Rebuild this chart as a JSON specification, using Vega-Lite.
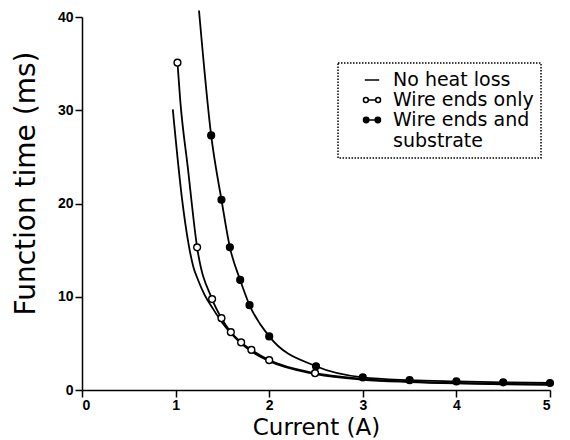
{
  "$schema": "https://vega.github.io/schema/vega-lite/v6.json",
  "width": 468,
  "height": 373,
  "autosize": {"type": "none"},
  "padding": {"left": 82, "top": 17, "right": 20, "bottom": 50},
  "background": "white",
  "config": {
    "view": {"stroke": null},
    "axis": {
      "domainColor": "black",
      "domainWidth": 1.5,
      "tickColor": "black",
      "tickWidth": 1.5,
      "tickSize": 7,
      "grid": false,
      "labelFont": "Liberation Sans",
      "labelFontWeight": "bold",
      "labelFontSize": 14,
      "labelColor": "black",
      "labelPadding": 2,
      "titleFont": "DejaVu Sans",
      "titleFontWeight": "normal",
      "titleColor": "black"
    },
    "legend": {
      "strokeDash": [1.5, 1.5],
      "strokeWidth": 1.5,
      "strokeColor": "black"
    }
  },
  "datasets": {
    "curves": [
      {"series": "No heat loss", "current": 0.97, "time": 30.1},
      {"series": "No heat loss", "current": 1.07, "time": 20.4},
      {"series": "No heat loss", "current": 1.19, "time": 13.2},
      {"series": "No heat loss", "current": 1.24, "time": 11.8},
      {"series": "No heat loss", "current": 1.31, "time": 10.2},
      {"series": "No heat loss", "current": 1.4, "time": 8.7},
      {"series": "No heat loss", "current": 1.5, "time": 7.2},
      {"series": "No heat loss", "current": 1.6, "time": 6.0},
      {"series": "No heat loss", "current": 1.7, "time": 5.0},
      {"series": "No heat loss", "current": 1.8, "time": 4.2},
      {"series": "No heat loss", "current": 2.0, "time": 3.1},
      {"series": "No heat loss", "current": 2.5, "time": 1.7},
      {"series": "No heat loss", "current": 3.0, "time": 1.1},
      {"series": "No heat loss", "current": 3.5, "time": 0.85},
      {"series": "No heat loss", "current": 4.0, "time": 0.7},
      {"series": "No heat loss", "current": 4.5, "time": 0.6},
      {"series": "No heat loss", "current": 5.0, "time": 0.55},
      {"series": "Wire ends only", "current": 1.02, "time": 35.1},
      {"series": "Wire ends only", "current": 1.05, "time": 31.0},
      {"series": "Wire ends only", "current": 1.13, "time": 23.9},
      {"series": "Wire ends only", "current": 1.23, "time": 15.3},
      {"series": "Wire ends only", "current": 1.39, "time": 9.75},
      {"series": "Wire ends only", "current": 1.49, "time": 7.7},
      {"series": "Wire ends only", "current": 1.59, "time": 6.2},
      {"series": "Wire ends only", "current": 1.7, "time": 5.1},
      {"series": "Wire ends only", "current": 1.81, "time": 4.3},
      {"series": "Wire ends only", "current": 2.0, "time": 3.2},
      {"series": "Wire ends only", "current": 2.49, "time": 1.8},
      {"series": "Wire ends only", "current": 3.0, "time": 1.2},
      {"series": "Wire ends only", "current": 3.5, "time": 0.9},
      {"series": "Wire ends only", "current": 4.0, "time": 0.75},
      {"series": "Wire ends only", "current": 4.5, "time": 0.65},
      {"series": "Wire ends only", "current": 5.0, "time": 0.6},
      {"series": "Wire ends and substrate", "current": 1.25, "time": 40.7},
      {"series": "Wire ends and substrate", "current": 1.38, "time": 27.3},
      {"series": "Wire ends and substrate", "current": 1.49, "time": 20.4},
      {"series": "Wire ends and substrate", "current": 1.58, "time": 15.3},
      {"series": "Wire ends and substrate", "current": 1.69, "time": 11.8},
      {"series": "Wire ends and substrate", "current": 1.79, "time": 9.1},
      {"series": "Wire ends and substrate", "current": 2.0, "time": 5.75},
      {"series": "Wire ends and substrate", "current": 2.5, "time": 2.55},
      {"series": "Wire ends and substrate", "current": 3.0, "time": 1.35},
      {"series": "Wire ends and substrate", "current": 3.5, "time": 1.05},
      {"series": "Wire ends and substrate", "current": 4.0, "time": 0.92},
      {"series": "Wire ends and substrate", "current": 4.5, "time": 0.82},
      {"series": "Wire ends and substrate", "current": 5.0, "time": 0.75}
    ],
    "markers": [
      {"series": "Wire ends only", "current": 1.02, "time": 35.1},
      {"series": "Wire ends only", "current": 1.23, "time": 15.3},
      {"series": "Wire ends only", "current": 1.39, "time": 9.75},
      {"series": "Wire ends only", "current": 1.49, "time": 7.7},
      {"series": "Wire ends only", "current": 1.59, "time": 6.2},
      {"series": "Wire ends only", "current": 1.7, "time": 5.1},
      {"series": "Wire ends only", "current": 1.81, "time": 4.3},
      {"series": "Wire ends only", "current": 2.0, "time": 3.2},
      {"series": "Wire ends only", "current": 2.49, "time": 1.8},
      {"series": "Wire ends and substrate", "current": 1.38, "time": 27.3},
      {"series": "Wire ends and substrate", "current": 1.49, "time": 20.4},
      {"series": "Wire ends and substrate", "current": 1.58, "time": 15.3},
      {"series": "Wire ends and substrate", "current": 1.69, "time": 11.8},
      {"series": "Wire ends and substrate", "current": 1.79, "time": 9.1},
      {"series": "Wire ends and substrate", "current": 2.0, "time": 5.75},
      {"series": "Wire ends and substrate", "current": 2.5, "time": 2.55},
      {"series": "Wire ends and substrate", "current": 3.0, "time": 1.35},
      {"series": "Wire ends and substrate", "current": 3.5, "time": 1.05},
      {"series": "Wire ends and substrate", "current": 4.0, "time": 0.92},
      {"series": "Wire ends and substrate", "current": 4.5, "time": 0.82},
      {"series": "Wire ends and substrate", "current": 5.0, "time": 0.75}
    ]
  },
  "encoding": {
    "x": {
      "field": "current",
      "type": "quantitative",
      "scale": {"domain": [0, 5], "nice": false},
      "axis": {"values": [0, 1, 2, 3, 4, 5], "title": "Current (A)", "titleFontSize": 23, "titleBaseline": "alphabetic", "titleY": 44, "labelPadding": 1}
    },
    "y": {
      "field": "time",
      "type": "quantitative",
      "scale": {"domain": [0, 40], "nice": false},
      "axis": {"values": [0, 10, 20, 30, 40], "title": "Function time (ms)", "titleFontSize": 28, "titleX": -42, "titleY": 166}
    }
  },
  "layer": [
    {
      "data": {"name": "curves"},
      "mark": {"type": "line", "interpolate": "monotone", "stroke": "black", "strokeWidth": 1.8, "clip": false},
      "encoding": {"detail": {"field": "series"}}
    },
    {
      "data": {"name": "markers"},
      "mark": {"type": "point", "shape": "circle", "filled": true, "stroke": "black", "strokeWidth": 1.4, "size": 46, "opacity": 1},
      "encoding": {
        "fill": {
          "field": "series",
          "type": "nominal",
          "scale": {"domain": ["No heat loss", "Wire ends only", "Wire ends and substrate"], "range": ["white", "white", "black"]}
        }
      }
    },
    {
      "data": {"name": "curves"},
      "mark": {"type": "point", "stroke": "black", "opacity": 0, "size": 1},
      "encoding": {
        "shape": {
          "field": "series",
          "type": "nominal",
          "scale": {
            "domain": ["No heat loss", "Wire ends only", "Wire ends and substrate"],
            "range": [
              "M-0.8,0H0.8",
              "M-0.95,0A0.27,0.27 0 1,1 -0.41,0A0.27,0.27 0 1,1 -0.95,0ZM-0.41,0H0.41M0.41,0A0.27,0.27 0 1,1 0.95,0A0.27,0.27 0 1,1 0.41,0Z",
              "M-0.95,0A0.3,0.3 0 1,1 -0.35,0A0.3,0.3 0 1,1 -0.95,0ZM-0.35,0H0.35M0.35,0A0.3,0.3 0 1,1 0.95,0A0.3,0.3 0 1,1 0.35,0Z"
            ]
          },
          "legend": {
            "title": null,
            "orient": "none",
            "legendX": 256,
            "legendY": 46,
            "padding": 7,
            "symbolOffset": 17,
            "symbolSize": 324,
            "symbolStrokeColor": "black",
            "symbolStrokeWidth": 1.5,
            "symbolOpacity": 1,
            "labelFont": "DejaVu Sans",
            "labelFontSize": 19,
            "labelColor": "black",
            "labelLimit": 400,
            "labelOffset": 11,
            "rowPadding": 0,
            "labelExpr": "datum.label == 'Wire ends and substrate' ? ['Wire ends and', 'substrate'] : datum.label"
          }
        },
        "fill": {
          "field": "series",
          "type": "nominal",
          "scale": {"domain": ["No heat loss", "Wire ends only", "Wire ends and substrate"], "range": ["white", "white", "black"]}
        }
      }
    }
  ]
}
